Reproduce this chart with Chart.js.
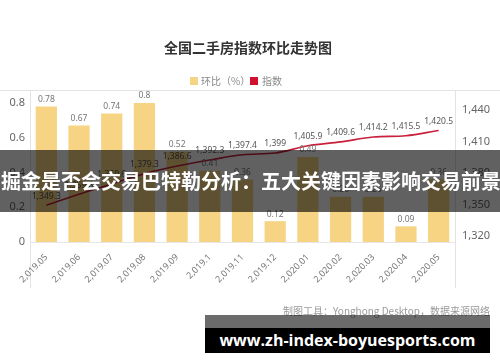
<!DOCTYPE html>
<html><head><meta charset="utf-8">
<script src="https://cdn.jsdelivr.net/npm/chart.js@4.4.0/dist/chart.umd.min.js"></script>
<style>
html,body{margin:0;padding:0;background:#fff;}
#wrap{position:relative;width:500px;height:362px;overflow:hidden;}
canvas{display:block;}
.banner{position:absolute;left:0;top:150px;width:500px;height:62px;background:rgba(0,0,0,0.62);}
.banner span{position:absolute;left:1px;top:0;color:#fff;font:bold 20px "Noto Sans CJK SC",sans-serif;white-space:nowrap;line-height:62px;}
.urlgrey{position:absolute;left:205px;top:315px;width:285px;height:13px;background:rgba(0,0,0,0.58);}
.urlbox{position:absolute;left:205px;top:328px;width:285px;height:25px;background:#000;color:#fff;font:bold 16px "Open Sans","Noto Sans",sans-serif;line-height:25px;text-align:center;white-space:nowrap;}
</style></head>
<body><div id="wrap"><canvas id="c" width="500" height="362"></canvas>
<div class="banner"><span>掘金是否会交易巴特勒分析：五大关键因素影响交易前景</span></div>
<div class="urlgrey"></div><div class="urlbox">www.zh-index-boyuesports.com</div>
</div>
<script>
const chartTitle = '全国二手房指数环比走势图';
const footerText = '制图工具：Yonghong Desktop，数据来源网络';
const categories = ['2,019.05','2,019.06','2,019.07','2,019.08','2,019.09','2,019.1','2,019.11','2,019.12','2,020.01','2,020.02','2,020.03','2,020.04','2,020.05'];
const ratioLabel = '环比（%）';
const ratioValues = [0.78,0.67,0.74,0.8,0.52,0.41,0.36,0.12,0.49,0.26,0.26,0.09,0.36];
const indexLabel = '指数';
const indexValues = [1349.3,1359.8,1369.6,1379.3,1386.6,1392.3,1397.4,1399,1405.9,1409.6,1414.2,1415.5,1420.5];
const leftTicks = [0,0.2,0.4,0.6,0.8];
const rightTicks = [1320,1350,1380,1410,1440];

const BAR_COLOR = '#f6d484';
const LINE_COLOR = '#c9203b';
const FONT = '"Noto Sans","Noto Sans CJK SC",sans-serif';

const decoPlugin = {
  id: 'deco',
  beforeDraw(chart) {
    const ctx = chart.ctx, a = chart.chartArea;
    ctx.save();
    ctx.strokeStyle = '#e3e3e3';
    ctx.lineWidth = 1;
    ctx.beginPath();
    ctx.moveTo(0, a.top + 0.5); ctx.lineTo(500, a.top + 0.5);
    ctx.moveTo(a.left + 0.5, a.top); ctx.lineTo(a.left + 0.5, 288);
    ctx.moveTo(a.right + 0.5, a.top); ctx.lineTo(a.right + 0.5, 288);
    ctx.stroke();
    ctx.restore();
  },
  afterDatasetsDraw(chart) {
    const ctx = chart.ctx;
    ctx.save();
    ctx.textAlign = 'center';
    ctx.textBaseline = 'middle';
    ctx.font = '8.5px ' + FONT;
    ctx.fillStyle = '#777';
    chart.getDatasetMeta(0).data.forEach((el, i) => {
      ctx.fillText(String(ratioValues[i]), el.x, el.y - 7);
    });
    ctx.fillStyle = '#555';
    chart.getDatasetMeta(1).data.forEach((el, i) => {
      ctx.fillText(indexValues[i].toLocaleString('en-US'), el.x, el.y - 9);
    });
    ctx.restore();
  },
  afterDraw(chart) {
    const ctx = chart.ctx;
    ctx.save();
    ctx.textBaseline = 'middle';
    ctx.textAlign = 'center';
    ctx.fillStyle = '#333';
    ctx.font = 'bold 14px "Noto Sans CJK SC",sans-serif';
    ctx.fillText(chartTitle, 248, 48);
    ctx.textAlign = 'left';
    ctx.font = '10px "Noto Sans CJK SC",sans-serif';
    ctx.fillStyle = BAR_COLOR;
    ctx.fillRect(190, 77, 8, 8);
    ctx.fillStyle = '#888';
    ctx.fillText(ratioLabel, 201, 81);
    ctx.fillStyle = '#d0112b';
    ctx.fillRect(250, 77, 8, 8);
    ctx.fillStyle = '#888';
    ctx.fillText(indexLabel, 262, 81);
    ctx.textAlign = 'right';
    ctx.fillStyle = '#999';
    ctx.font = '10px "Noto Sans CJK SC",sans-serif';
    ctx.fillText(footerText, 490, 311);
    ctx.restore();
  }
};

new Chart(document.getElementById('c'), {
  data: {
    labels: categories,
    datasets: [
      { type: 'bar', label: ratioLabel, data: ratioValues, backgroundColor: BAR_COLOR,
        yAxisID: 'y', order: 2, barPercentage: 0.65, categoryPercentage: 1 },
      { type: 'line', label: indexLabel, data: indexValues, borderColor: LINE_COLOR, borderWidth: 1.6,
        pointRadius: 0, tension: 0.4, cubicInterpolationMode: 'monotone', fill: false, yAxisID: 'y1', order: 1 }
    ]
  },
  options: {
    responsive: false,
    animation: false,
    layout: { padding: { top: 90, left: 0, right: 0, bottom: 0 } },
    plugins: { legend: { display: false }, title: { display: false }, tooltip: { enabled: false } },
    scales: {
      x: {
        grid: { display: false },
        border: { display: true, color: '#e6e6e6' },
        ticks: { autoSkip: false, maxRotation: 45, minRotation: 45, color: '#777', font: { size: 9, family: FONT }, padding: 2 },
        afterFit(s) { s.height = 120; }
      },
      y: {
        position: 'left', min: 0, max: 0.875,
        grid: { display: false, drawTicks: false }, border: { display: false },
        ticks: { color: '#666', font: { size: 11, family: FONT }, padding: 5 },
        afterBuildTicks(s) { s.ticks = leftTicks.map(v => ({ value: v })); },
        afterFit(s) { s.width = 30; }
      },
      y1: {
        position: 'right', min: 1314.3, max: 1459,
        grid: { display: false, drawTicks: false }, border: { display: false },
        ticks: { color: '#666', font: { size: 11, family: FONT }, padding: 7,
          callback: v => Number(v).toLocaleString('en-US') },
        afterBuildTicks(s) { s.ticks = rightTicks.map(v => ({ value: v })); },
        afterFit(s) { s.width = 45; }
      }
    }
  },
  plugins: [decoPlugin]
});
</script></body></html>
